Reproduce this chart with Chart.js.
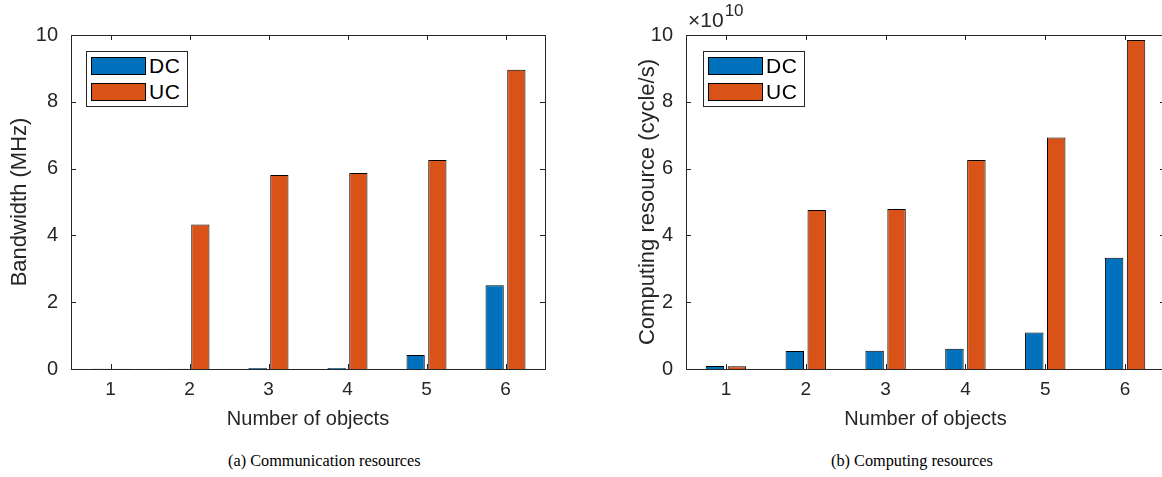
<!DOCTYPE html>
<html>
<head>
<meta charset="utf-8">
<script src="https://cdn.jsdelivr.net/npm/chart.js@4.4.0/dist/chart.umd.min.js"></script>
<style>
  body{margin:0;width:1162px;height:477px;overflow:hidden;background:#fff;position:relative;font-family:"Liberation Sans",Arial,Helvetica,sans-serif;}
  .wrap{position:absolute;top:0;height:440px;}
  .legend{position:absolute;width:100px;height:54px;border:1px solid #262626;background:#fff;}
  .item{position:absolute;left:4px;height:18px;display:flex;align-items:center;font-size:21px;letter-spacing:0.5px;color:#000;}
  .sw{width:53px;height:16px;border:1px solid #000;margin-right:3px;}
  .cap{position:absolute;top:451px;font-family:"Liberation Serif","Times New Roman",serif;font-size:16.3px;color:#000;white-space:nowrap;}
  .exp{position:absolute;left:688px;top:8px;font-size:21px;color:#262626;white-space:nowrap;}
  .exp .sup{font-size:17px;position:relative;top:-11px;margin-left:1px;}
</style>
</head>
<body>
<div class="wrap" style="left:0;width:560px;"><canvas id="chartA"></canvas></div>
<div class="wrap" style="left:615px;width:580px;"><canvas id="chartB"></canvas></div>
<div class="exp">&times;10<span class="sup">10</span></div>
<div class="legend" id="legA" style="left:86px;top:51px;"></div>
<div class="legend" id="legB" style="left:703px;top:51px;"></div>
<div class="cap" style="left:228px;">(a) Communication resources</div>
<div class="cap" style="left:831px;">(b) Computing resources</div>
<script>
// data
let categories=['1','2','3','4','5','6'];
let seriesNames=['DC','UC'];
let seriesColors=['#0072BD','#D95319'];
let bandwidthDC=[0.005,0.01,0.03,0.03,0.42,2.51];
let bandwidthUC=[0.01,4.33,5.81,5.87,6.26,8.96];
let computingDC=[0.09e10,0.54e10,0.55e10,0.61e10,1.09e10,3.33e10];
let computingUC=[0.08e10,4.76e10,4.79e10,6.26e10,6.93e10,9.85e10];
let yTicksA=[0,2,4,6,8,10];
let yTicksB=[0,2e10,4e10,6e10,8e10,10e10];

const axisColor='#262626';
const fontFamily='"Liberation Sans", Arial, Helvetica, sans-serif';

// box + inward ticks like matlab
const boxPlugin={
    id:'box',
    afterDraw(chart){
        const {ctx,chartArea:a,scales:{x,y}}=chart;
        ctx.save();
        ctx.strokeStyle=axisColor;
        ctx.lineWidth=1;
        ctx.strokeRect(Math.round(a.left)+0.5,Math.round(a.top)+0.5,Math.round(a.right-a.left),Math.round(a.bottom-a.top));
        ctx.beginPath();
        x.ticks.forEach((t,i)=>{
            let px=Math.round(x.getPixelForTick(i))+0.5;
            ctx.moveTo(px,a.bottom);ctx.lineTo(px,a.bottom-5);
            ctx.moveTo(px,a.top);ctx.lineTo(px,a.top+5);
        });
        y.ticks.forEach((t,i)=>{
            let py=Math.round(y.getPixelForTick(i))+0.5;
            ctx.moveTo(a.left,py);ctx.lineTo(a.left+5,py);
            ctx.moveTo(a.right,py);ctx.lineTo(a.right-5,py);
        });
        ctx.stroke();
        ctx.restore();
    }
};

let makeChart=(id,dc,uc,yTitle,yTicks,scale,rightPad,titlePad)=>{
    const ctx=document.getElementById(id).getContext('2d');
    return new Chart(ctx,{
        type:'bar',
        data:{
            labels:categories,
            datasets:[dc,uc].map((d,i)=>({
                label:seriesNames[i],
                data:d,
                backgroundColor:seriesColors[i],
                borderColor:'#000',
                borderWidth:1,
                categoryPercentage:0.55,
                barPercentage:0.84
            }))
        },
        options:{
            responsive:true,
            maintainAspectRatio:false,
            animation:false,
            layout:{padding:{left:0,top:35,right:rightPad,bottom:0}},
            plugins:{legend:{display:false},tooltip:{enabled:false}},
            scales:{
                x:{
                    offset:true,
                    grid:{display:false},
                    border:{display:false},
                    ticks:{color:axisColor,font:{family:fontFamily,size:19},padding:1},
                    title:{display:true,text:'Number of objects',color:axisColor,font:{family:fontFamily,size:20},padding:{top:0,bottom:9}},
                    afterFit(s){s.height=71;}
                },
                y:{
                    min:0,
                    max:yTicks[yTicks.length-1],
                    grid:{display:false},
                    border:{display:false},
                    afterBuildTicks(s){s.ticks=yTicks.map(v=>({value:v}));},
                    ticks:{color:axisColor,font:{family:fontFamily,size:20},padding:5,callback:(v)=>String(v/scale)},
                    title:{display:true,text:yTitle,color:axisColor,font:{family:fontFamily,size:22},padding:{top:titlePad,bottom:0}},
                    afterFit(s){s.width=71;}
                }
            }
        },
        plugins:[boxPlugin]
    });
};

makeChart('chartA',bandwidthDC,bandwidthUC,'Bandwidth (MHz)',yTicksA,1,15,7);
makeChart('chartB',computingDC,computingUC,'Computing resource (cycle/s)',yTicksB,1e10,30,20);

// legends
['legA','legB'].forEach((id)=>{
    let el=document.getElementById(id);
    seriesNames.forEach((name,i)=>{
        let item=document.createElement('div');
        item.className='item';
        item.style.top=(5+i*26)+'px';
        item.innerHTML='<div class="sw" style="background:'+seriesColors[i]+'"></div>'+name;
        el.appendChild(item);
    });
});
</script>
</body>
</html>
